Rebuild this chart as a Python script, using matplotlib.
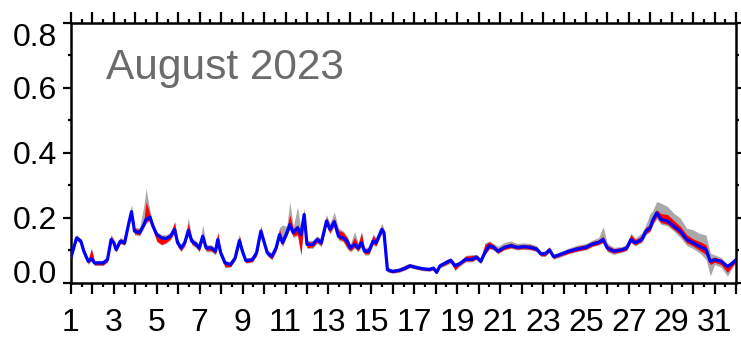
import numpy as np
import matplotlib
matplotlib.use("Agg")
import matplotlib.pyplot as plt
from matplotlib.ticker import MultipleLocator

plt.rcParams["font.family"] = ["Liberation Sans", "DejaVu Sans"]

# ── Data ─────────────────────────────────────────────────────────
days = [
    1.00, 1.26, 1.46, 1.60, 1.80, 1.95, 2.10, 2.50, 2.70, 2.87,
    3.00, 3.10, 3.30, 3.50, 3.68, 3.82, 3.96, 4.20, 4.40, 4.50,
    4.68, 4.82, 5.00, 5.22, 5.43, 5.63, 5.83, 5.97, 6.13, 6.30,
    6.47, 6.63, 6.84, 6.98, 7.14, 7.30, 7.54, 7.74, 7.84, 7.98,
    8.18, 8.44, 8.65, 8.85, 8.99, 9.15, 9.45, 9.65, 9.85, 9.99,
    10.15, 10.36, 10.56, 10.72, 10.86, 11.06, 11.20, 11.36, 11.56, 11.72,
    11.87, 12.00, 12.27, 12.47, 12.67, 12.91, 13.07, 13.27, 13.47, 13.68,
    13.88, 14.02, 14.22, 14.38, 14.54, 14.68, 14.88, 15.08, 15.22, 15.49,
    15.59, 15.75, 15.99, 16.29, 16.59, 16.79, 17.09, 17.39, 17.70, 17.90,
    18.04, 18.20, 18.50, 18.70, 18.90, 19.10, 19.40, 19.70, 19.90, 20.10,
    20.30, 20.50, 20.70, 20.90, 21.20, 21.50, 21.80, 22.10, 22.40, 22.70,
    22.90, 23.10, 23.30, 23.50, 23.80, 24.20, 24.60, 25.00, 25.30, 25.60,
    25.80, 26.00, 26.30, 26.70, 26.90, 27.10, 27.30, 27.60, 27.80, 28.00,
    28.10, 28.30, 28.50, 28.80, 29.10, 29.40, 29.70, 30.00, 30.30, 30.60,
    30.80, 31.00, 31.30, 31.60, 31.85, 32.00,
]

blue = [
    .078, .138, .128, .097, .066, .074, .061, .061, .071, .133,
    .123, .102, .128, .123, .179, .219, .159, .154, .179, .195,
    .202, .174, .148, .138, .136, .143, .164, .123, .107, .123,
    .161, .128, .118, .107, .143, .107, .107, .097, .133, .092,
    .061, .056, .076, .130, .097, .068, .071, .092, .159, .128,
    .092, .081, .107, .148, .123, .154, .179, .154, .169, .148,
    .210, .118, .118, .133, .123, .190, .164, .188, .143, .138,
    .128, .107, .118, .107, .123, .097, .097, .128, .123, .164,
    .154, .040, .035, .038, .045, .052, .047, .043, .041, .045,
    .032, .052, .062, .069, .052, .058, .072, .072, .079, .066,
    .094, .114, .109, .097, .109, .114, .109, .111, .109, .104,
    .089, .089, .101, .080, .087, .097, .104, .109, .119, .124,
    .133, .107, .097, .102, .107, .133, .123, .133, .159, .169,
    .190, .215, .195, .190, .174, .159, .133, .123, .112, .102,
    .066, .071, .066, .050, .061, .071,
]

red_up = [
    .005, .006, .005, .005, .005, .030, .005, .005, .008, .012,
    .006, .005, .008, .006, .010, .008, .008, .010, .012, .055,
    .010, .008, .006, .006, .006, .008, .022, .008, .006, .008,
    .022, .008, .006, .006, .010, .006, .006, .006, .022, .008,
    .006, .005, .006, .015, .006, .005, .005, .006, .012, .008,
    .006, .006, .008, .018, .010, .012, .030, .012, .010, .008,
    .010, .008, .008, .008, .008, .012, .012, .010, .018, .018,
    .010, .008, .022, .010, .030, .008, .008, .018, .010, .008,
    .008, .005, .004, .006, .008, .006, .005, .004, .005, .004,
    .004, .006, .008, .006, .008, .006, .010, .012, .006, .008,
    .025, .012, .008, .008, .006, .008, .006, .006, .008, .006,
    .006, .006, .008, .006, .006, .006, .008, .008, .008, .008,
    .010, .008, .008, .006, .008, .015, .010, .010, .012, .010,
    .012, .010, .018, .020, .018, .015, .015, .012, .015, .015,
    .008, .008, .006, .005, .006, .006,
]

red_dn = [
    .004, .005, .005, .005, .006, .004, .006, .006, .006, .006,
    .006, .006, .006, .006, .006, .006, .008, .006, .006, .008,
    .008, .010, .020, .020, .012, .008, .008, .010, .008, .008,
    .008, .008, .008, .010, .008, .008, .008, .008, .008, .010,
    .012, .006, .006, .008, .008, .006, .006, .008, .008, .008,
    .008, .008, .008, .008, .008, .008, .010, .010, .020, .060,
    .015, .010, .008, .008, .008, .008, .010, .010, .008, .008,
    .020, .008, .008, .008, .008, .008, .008, .008, .008, .008,
    .008, .005, .004, .004, .004, .004, .004, .004, .004, .004,
    .004, .004, .005, .005, .012, .005, .005, .005, .005, .005,
    .006, .008, .006, .006, .006, .006, .006, .006, .006, .006,
    .006, .006, .006, .005, .005, .006, .006, .006, .006, .006,
    .008, .008, .006, .006, .006, .008, .006, .006, .008, .008,
    .010, .012, .010, .010, .010, .012, .010, .010, .012, .015,
    .010, .008, .010, .018, .008, .006,
]

gray_up = [
    .008, .010, .008, .008, .008, .032, .008, .008, .012, .016,
    .010, .008, .012, .010, .018, .022, .012, .015, .060, .095,
    .020, .012, .010, .010, .012, .012, .025, .012, .010, .012,
    .040, .012, .010, .010, .035, .010, .010, .010, .025, .010,
    .008, .008, .010, .020, .010, .008, .008, .010, .018, .012,
    .010, .010, .012, .022, .055, .020, .070, .018, .065, .015,
    .020, .012, .012, .012, .012, .020, .018, .030, .025, .022,
    .015, .012, .040, .015, .035, .012, .012, .022, .015, .020,
    .012, .008, .006, .008, .010, .008, .008, .006, .006, .006,
    .006, .008, .010, .008, .010, .008, .012, .015, .008, .010,
    .028, .015, .012, .015, .015, .015, .012, .012, .012, .010,
    .008, .008, .010, .008, .008, .010, .012, .012, .012, .015,
    .040, .015, .012, .010, .012, .020, .015, .020, .020, .045,
    .030, .035, .050, .045, .040, .040, .035, .040, .040, .045,
    .025, .015, .012, .008, .010, .010,
]

gray_dn = [
    .006, .008, .008, .008, .010, .008, .008, .008, .008, .008,
    .008, .008, .008, .008, .008, .008, .012, .010, .010, .012,
    .012, .012, .022, .022, .015, .012, .012, .012, .012, .012,
    .012, .012, .012, .012, .012, .012, .012, .012, .012, .012,
    .015, .008, .008, .012, .012, .008, .008, .010, .010, .010,
    .010, .010, .012, .012, .012, .012, .015, .015, .025, .065,
    .020, .012, .012, .012, .012, .012, .015, .015, .012, .012,
    .025, .012, .012, .012, .012, .012, .012, .012, .012, .012,
    .012, .008, .006, .006, .006, .006, .006, .006, .006, .006,
    .006, .006, .008, .008, .015, .008, .008, .008, .008, .008,
    .008, .010, .008, .008, .008, .008, .008, .008, .008, .008,
    .008, .008, .008, .008, .008, .008, .008, .008, .008, .008,
    .010, .012, .010, .008, .008, .010, .010, .010, .012, .012,
    .015, .018, .015, .015, .015, .020, .018, .018, .020, .030,
    .045, .015, .018, .030, .012, .010,
]

y_ticks = [0.0, 0.2, 0.4, 0.6, 0.8]
title_text = "August 2023"

# ── Style ────────────────────────────────────────────────────────
C_GRAY = "#a9a9a9"
C_RED = "#ff0000"
C_BLUE = "#0000ff"
TICK_FS = 23

t = np.array(days)
b = np.array(blue)

fig = plt.figure(figsize=(7.41, 3.37), dpi=100)
ax = fig.add_axes([0.0958, 0.161, 0.8975, 0.771])

ax.fill_between(t, b - np.array(gray_dn), b + np.array(gray_up),
                color=C_GRAY, lw=0, zorder=1)
ax.fill_between(t, b - np.array(red_dn), b + np.array(red_up),
                color=C_RED, lw=0, zorder=2)
ax.plot(t, b, color=C_BLUE, lw=2.3, zorder=3)

ax.set_xlim(1, 32)
ax.set_ylim(0, 0.8)

# x ticks: every day, labels on odd days; half-day minors
xt = np.arange(1, 33)
ax.set_xticks(xt)
ax.set_xticklabels([str(d) if d % 2 == 1 and d < 32 else "" for d in xt])
ax.xaxis.set_minor_locator(MultipleLocator(0.5))
ax.tick_params(axis="x", which="major", direction="out", length=8,
               width=1.6, top=True, labelsize=TICK_FS, pad=10)
ax.tick_params(axis="x", which="minor", direction="out", length=3,
               width=1.6, top=True)

ax.set_yticks(y_ticks)
ax.set_yticklabels([f"{v:.1f}" for v in y_ticks])
ax.yaxis.set_minor_locator(MultipleLocator(0.1))
ax.tick_params(axis="y", which="major", direction="out", length=6,
               width=1.6, right=True, labelsize=TICK_FS, pad=4)
ax.tick_params(axis="y", which="minor", direction="out", length=2.5,
               width=1.6, right=True)

# keep end labels inside the frame like the original
ylabels = ax.get_yticklabels()
ylabels[0].set_va("baseline")
ylabels[-1].set_va("top")

for sp in ax.spines.values():
    sp.set_linewidth(1.8)

ax.text(0.053, 0.826, title_text, transform=ax.transAxes,
        fontsize=30.5, color="#6b6b6b", ha="left", va="center")

fig.savefig("out.png", dpi=100, facecolor="white")
